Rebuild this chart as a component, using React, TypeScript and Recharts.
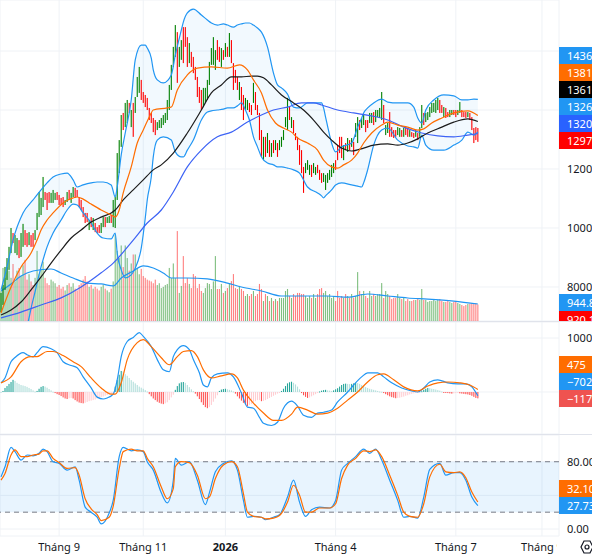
import React from "react";
import { ComposedChart, Bar, Line, Area, XAxis, YAxis, CartesianGrid, ReferenceArea, ReferenceLine } from "recharts";

const W = 592;
const SLOTS = 279;
const X_DOMAIN: [number, number] = [-0.5, SLOTS - 0.5];
const FONT = '"Noto Sans", sans-serif';
const TEXT = "#131722";
const GRID = "#eff2f6";
const M = { top: 0, right: 0, bottom: 0, left: 0 };

const monthTicks = [29, 71, 112, 167, 227, 270];
const monthLabels = ["Tháng 9", "Tháng 11", "2026", "Tháng 4", "Tháng 7", "Tháng 9"];
const priceTicks = [80000, 100000, 120000, 140000, 160000];
const macdTicks = [0, 10000];
const stochTicks = [0, 40, 80];
// grid levels whose labels sit under the last-value tags
const hiddenLabels = [140000, 160000];

// daily OHLC
const opens = [
  73000,75500,80500,84000,87500,93000,98000,93000,92000,95000,
  91500,95000,98500,97500,95000,97000,97500,96500,100000,105000,
  105500,108500,112000,111000,111500,109000,109500,110000,112000,111000,
  110000,110000,108000,109000,112500,109000,111000,113000,112500,110000,
  109000,106500,104500,104500,100000,103000,100000,101500,100000,100500,
  98500,100500,103500,102000,102000,104000,101000,101000,110000,120000,
  129000,138500,135000,136500,142000,135000,141500,139500,145000,147000,
  149500,145500,144500,143500,140000,138500,137000,136000,133500,134000,
  134500,135000,136000,137000,141000,148000,155000,159000,165000,155000,
  157500,167000,167500,164000,156500,159000,157500,154000,150500,147000,
  146000,141500,143000,144000,149000,155500,156000,154000,163000,161000,
  155000,160000,158500,161000,158500,163000,155500,153000,150500,144000,
  147000,144500,140500,140500,142000,141500,143000,145500,141500,138500,
  132500,123500,130500,126000,129500,124500,129500,126500,128500,126500,
  128000,130000,134500,134000,140500,134000,136000,132000,130500,127500,
  126000,120000,119000,120000,118500,121000,119000,118500,121000,119500,
  118000,116000,113500,115500,116500,117500,119000,122500,127500,130500,
  130000,123500,128500,126000,129500,128000,129000,131000,129500,136500,
  134000,135000,136000,136500,136000,136000,139000,136000,138000,137500,
  137000,141500,132000,132500,138500,134000,133000,133000,131500,131000,
  133000,131000,134000,133500,131000,132500,132000,131000,132000,131000,
  134000,138500,136000,137000,138000,139500,139500,139500,140500,143000,
  141500,138000,140500,139000,138000,138500,139500,139500,138500,139500,
  139500,139000,139000,137800,138500,137000,133500,134000,133500,
];
const highs = [
  78000,80700,86800,89800,93600,100000,98300,97600,96600,95900,
  98300,101400,99300,98300,98600,97600,98300,99300,105100,112200,
  110200,117300,112200,111900,112200,111900,112900,111900,112200,111200,
  110200,110500,109500,112200,112900,111900,113900,113600,112900,110500,
  109500,107100,105100,105100,102700,103700,103400,101700,100300,101000,
  101700,103700,103700,103700,104100,104400,109500,110500,125400,129800,
  138300,139000,142400,143400,142400,140000,142400,144400,151200,154600,
  150200,146100,145100,144100,140700,139000,137300,136600,135900,136600,
  137300,138300,139000,143400,148500,155300,161400,168800,166400,161400,
  163700,168100,168100,164700,162700,159700,158000,154600,151200,147800,
  146800,147500,147500,150200,156300,161000,164700,160300,163700,161400,
  161000,160300,162700,161400,166100,163700,155900,153600,151200,149500,
  147800,145100,144100,143400,142400,141700,149200,146100,141700,139000,
  133200,130900,130900,132200,129800,128800,129800,129800,128800,129800,
  130900,133200,137600,144100,141000,137600,136600,132200,130900,128100,
  126400,120700,122000,123000,121400,121400,122000,120700,121400,119700,
  118600,118600,118000,118600,119700,121400,122000,123000,128100,130900,
  130900,128100,128800,130500,129800,130500,129200,135600,137600,136600,
  137300,138300,136600,136600,139000,139000,139300,140000,140000,140700,
  146100,141700,134900,135600,139300,134200,133200,133200,134200,133900,
  133200,133900,134200,133900,133200,132500,132200,133200,132200,134200,
  141700,139000,139000,139300,141000,142400,142400,143400,144100,143400,
  141700,141000,140700,139300,140000,140000,140000,140000,140000,142700,
  140000,139300,139300,139300,139000,137600,133900,134200,133900,
];
const lows = [
  71500,73900,79000,82400,85800,91500,94900,91500,90800,89800,
  90200,93600,94200,93600,94200,93600,93600,95900,99300,103700,
  104400,107100,109500,106100,108500,108500,108500,109500,109500,107800,
  107800,107100,107800,108800,109500,108500,110500,110200,110500,107100,
  106100,103700,101700,102000,99300,100300,99300,98600,98300,98300,
  98300,100300,100300,101700,101700,101700,100300,100000,109500,118600,
  127500,133200,134200,135600,139000,134200,130900,139000,144400,145800,
  143400,142400,141000,140000,136600,135600,132500,131500,133200,133900,
  133900,134900,135600,136600,140000,146800,154600,158000,149200,154600,
  157000,155900,161400,154600,155900,154600,152500,150200,144400,142400,
  140000,141000,142400,143400,148500,155300,155300,153600,157000,156300,
  154600,157000,158000,158000,158000,155900,146800,149200,146800,143400,
  140000,136600,140000,140000,139300,138300,142400,140000,138300,129800,
  124100,123000,124100,125400,124100,124100,125400,126400,124100,126400,
  127500,129800,134200,133200,136600,133900,132200,129800,126400,121400,
  118600,111900,118600,119700,118000,117300,118600,118000,118600,116300,
  115300,115600,112900,115300,116300,117300,118600,119700,123000,125400,
  123700,123000,126400,125800,126400,127500,124700,130900,128800,133200,
  133900,134900,132500,133900,135600,135600,134900,135900,137600,137300,
  136600,135600,131500,132200,130900,130900,130500,130900,131500,130900,
  130900,130900,131500,130900,130900,130900,130500,130900,129800,130900,
  133900,134900,135900,136600,137600,139000,139300,139000,140000,139000,
  139000,137600,137300,137600,137600,138300,138300,137600,138300,139000,
  137600,137600,137300,137600,136600,133200,128800,129800,129200,
];
const closes = [
  77000,79500,85500,88500,92500,99000,95500,97000,96000,91000,
  97500,100500,95000,94500,98000,94500,94000,99000,104500,111000,
  109500,116000,110000,107000,109000,111500,112500,111500,110000,108000,
  108000,107500,109500,112000,110000,111500,113500,110500,111000,107500,
  106500,104000,102000,102500,102500,100500,103000,99000,98500,98500,
  101500,103500,100500,103500,104000,102000,109000,109500,124500,129000,
  137500,134000,141500,143000,139500,139500,132000,144000,150500,153500,
  144000,143000,141500,140500,137000,136000,133000,132000,135500,136500,
  137000,138000,138500,143000,148000,154500,161000,168000,150000,160500,
  163000,156500,162000,155000,162000,155000,153000,150500,145000,143000,
  140500,147000,147000,149500,155500,160500,164000,159500,157500,156500,
  160500,157500,162000,158500,165500,156500,147500,149500,147000,149000,
  140500,137000,143500,143000,139500,138500,148500,140500,138500,130500,
  124500,130000,124500,131500,124500,128500,126000,129500,124500,129500,
  130500,133000,137000,143000,137000,137000,132500,130000,126500,122000,
  119000,112500,121500,122500,121000,117500,121500,120500,119000,116500,
  115500,118500,117500,118500,119500,121000,121500,120000,123500,126000,
  124000,127500,126500,130000,126500,130000,125000,135000,137000,133500,
  137000,138000,133000,134000,138500,138500,135000,139500,139500,140500,
  145000,136000,134500,135000,131500,131000,131000,131000,134000,133500,
  131000,133500,132000,131000,133000,131000,131000,133000,130000,134000,
  141000,135500,138500,139000,140500,142000,142000,143000,143500,139500,
  139500,140500,137500,138000,139500,139500,138500,138000,139500,142000,
  138000,138000,137500,139000,137000,133500,129000,130000,129700,
];
// volume, thousands of shares
const volumes = [
  1700,2950,2400,3000,2800,2400,3170,2200,2800,2950,
  2500,3100,3400,2300,2600,2200,2000,2400,3900,2600,
  2900,3300,2400,2100,2000,2300,2200,2100,1900,2000,
  1800,1900,1700,2000,2100,1900,2100,1800,1700,2000,
  2100,2300,2500,2200,1900,2000,1800,1900,1800,1700,
  1900,2000,1800,1700,1600,1800,2200,4800,3900,3500,
  4200,3000,4200,3500,2800,3200,3700,3700,2950,2600,
  2900,2500,2400,2300,2250,2200,2100,2300,2000,2100,
  1830,1900,2000,2060,2950,2390,3200,2390,5000,1560,
  1950,3610,2110,2390,2060,1830,2610,2500,1830,2060,
  1670,1560,1830,2110,2060,1780,2200,3610,1780,1780,
  2060,1560,1670,1830,2110,2220,2610,1830,1780,1950,
  1780,1670,1390,1500,1390,1500,1670,1390,1500,2060,
  1780,1110,1500,1390,1110,1280,1110,1220,1110,1280,
  1280,1280,1670,1780,1390,1280,1500,1390,1560,1560,
  1500,1500,1390,1280,1390,1280,1500,1280,1500,1780,
  1830,1560,1670,1390,1500,1280,1390,1110,1670,1280,
  1390,1280,1500,1390,1280,1500,1300,1390,2720,1670,
  1500,1670,1390,1280,1670,1390,1500,1390,1500,1500,
  2110,1280,1670,1500,1390,1220,1280,1280,1500,1280,
  1220,1280,1110,1220,1110,1110,1170,1170,1220,1170,
  1780,1170,1170,1060,1110,1110,1170,1110,1170,1220,
  1110,1060,1060,1110,1060,1000,1060,1110,1000,950,
  890,830,890,950,950,1000,950,1000,920,
];
const macdHist = [
  0,190,750,1100,1500,1850,2250,2050,1700,1500,
  1300,1200,1100,950,750,550,300,100,200,600,
  950,1100,1000,800,550,300,50,-200,-400,-550,
  -750,-1000,-1200,-1300,-1150,-1100,-1200,-1500,-1750,-1950,
  -2050,-2100,-2000,-1850,-1700,-1600,-1500,-1400,-1200,-1050,
  -950,-850,-700,-550,-450,-300,-150,1000,2200,3200,
  3900,3800,3300,3000,2600,2200,1900,1600,1300,1000,
  800,600,350,100,-400,-800,-1200,-1500,-1800,-2000,
  -2150,-2250,-2100,-1900,-1500,-1000,-500,400,1100,1600,
  1800,1850,1700,1300,900,500,150,-300,-800,-1300,
  -1900,-2400,-2800,-3000,-2800,-2400,-1800,-1200,-600,200,
  450,550,600,500,400,300,100,-300,-800,-1200,
  -1600,-2000,-2300,-2600,-2400,-2200,-1900,-1700,-1500,-1500,
  -1700,-1650,-1500,-1300,-1100,-900,-700,-500,-300,-100,
  200,600,1100,1600,1800,1900,1700,1400,1000,500,
  -200,-600,-900,-1100,-1000,-800,-600,-400,-200,100,
  250,350,400,300,250,200,300,500,700,1000,
  1300,1500,1550,1500,1450,1500,1600,1700,1650,1500,
  1300,1100,900,750,600,500,400,300,200,100,
  50,-200,-400,-600,-800,-950,-1050,-1150,-1100,-1050,
  -950,-850,-700,-600,-450,-350,-250,-150,-100,-50,
  150,400,600,750,700,600,550,450,350,250,
  100,-100,-150,-200,-250,-300,-250,-200,-200,-250,
  -300,-350,-400,-450,-550,-700,-900,-1100,-1177,
];

// Bollinger bands (read at these bars)
const bbIdx = [0,3,6,11,16,20,23,26,30,33,36,38,41,45,48,51,55,57,58,60,62,65,67,70,72,73,75,76,78,81,85,87,90,91,93,96,100,103,105,108,111,113,116,118,120,122,124,126,128,130,133,136,138,140,143,146,149,153,158,160,161,162,164,165,167,170,175,178,180,181,183,186,190,193,198,203,206,208,210,212,216,221,226,230,233,236,238];
const bbUpper = [79000,86800,95900,105100,109500,112900,115300,117300,118300,118600,116300,113900,114600,115300,115600,115600,114600,110500,113900,124800,132200,143400,157000,162000,162000,161000,157600,153600,150200,149200,151900,158600,167100,169800,172900,174200,172200,170500,169500,168800,169200,168800,168100,168800,169200,169500,169500,168800,167800,166400,161400,152500,148500,147500,145400,141000,140700,142400,142400,142400,140700,137600,131500,128800,125800,127500,128800,134200,137300,139000,140700,142400,143700,142700,142400,142400,141000,137300,135600,140000,143400,145100,144800,143400,143400,143700,143600];
const bbLower = [63700,63700,63700,63700,75600,86800,93600,98300,102700,106100,108100,107800,105100,101700,98300,96600,96300,98300,91500,85800,83100,84100,86400,93200,103400,109500,117300,124100,129800,130900,129800,125800,124100,124100,126400,129800,136600,139300,139700,140000,140300,140700,140700,141400,142400,140000,136600,130900,127500,124100,122000,121400,120700,120700,120300,119700,118600,113900,111900,110900,110200,110900,112200,112900,114600,115300,114600,114200,113900,115300,119700,128100,133200,133900,129800,127800,127500,127100,131500,128100,126400,126400,128100,129800,132500,131500,132600];

// [bar, value] readings for the moving averages
const basisPts = [[0,71200],[5,80000],[10,86800],[15,91500],[18,95900],[20,99300],[23,102700],[26,105100],[31,108500],[36,110200],[38,110500],[41,109800],[45,108100],[50,106100],[55,104400],[57,103700],[59,106100],[61,111900],[65,120700],[68,128800],[71,133200],[74,137600],[76,140000],[83,140700],[85,141000],[88,146800],[93,151900],[98,154200],[105,154600],[113,154200],[119,155300],[123,153600],[126,150200],[130,145800],[133,140000],[137,135600],[141,133900],[145,132500],[148,130500],[153,128800],[158,126400],[161,123000],[165,120700],[168,120300],[171,121400],[175,123000],[178,125400],[181,128800],[185,132200],[190,134900],[193,135900],[198,134900],[203,134200],[208,133200],[211,133600],[215,135600],[220,137300],[226,139000],[233,139700],[238,138100]];
const sma50Pts = [[0,70500],[5,72200],[10,74900],[15,79000],[20,83400],[25,88100],[30,92500],[35,96600],[40,99300],[45,102000],[50,103700],[55,105100],[57,106100],[61,109500],[66,112900],[71,116300],[76,119700],[80,121400],[86,125400],[93,132200],[100,140000],[105,145800],[110,148500],[115,151200],[120,151200],[125,151500],[128,151500],[131,150900],[135,148500],[140,145100],[146,142400],[151,140000],[156,136600],[161,132500],[165,129800],[170,127100],[175,126100],[181,127100],[186,128100],[193,128500],[198,128100],[203,128800],[208,130200],[213,132200],[220,134200],[226,135900],[233,137000],[238,136100]];
const sma200Pts = [[0,69500],[10,71500],[20,73900],[30,76300],[40,80000],[50,84800],[56,88100],[66,95900],[73,101700],[80,106100],[86,112200],[93,120700],[100,126400],[108,130900],[115,132500],[123,135900],[130,138300],[136,140000],[143,141000],[150,142400],[156,142400],[160,141700],[168,140000],[176,139000],[185,138000],[193,136600],[201,134200],[210,132200],[218,131200],[226,130900],[233,131500],[238,132000]];
const volMaPts = [[0,1670],[5,2060],[10,2500],[16,2780],[25,2890],[30,2670],[36,2390],[43,2110],[50,2060],[56,1950],[60,2390],[66,2780],[71,3060],[76,2950],[81,2670],[85,2390],[93,2390],[103,2340],[113,2110],[120,1890],[130,1670],[140,1390],[153,1390],[163,1390],[173,1330],[183,1500],[193,1390],[203,1280],[213,1220],[226,1110],[238,945]];
const macdPts = [[0,1700],[2,2600],[5,5600],[7,6400],[11,7300],[13,6900],[16,6500],[18,7300],[21,8400],[25,8000],[28,7300],[31,5600],[35,4900],[38,4500],[41,2800],[45,750],[48,-950],[51,-1300],[53,-1100],[56,-400],[58,2250],[60,6550],[63,9350],[66,10100],[69,11000],[71,10300],[75,8400],[78,6000],[81,4100],[84,3750],[86,6550],[88,7850],[91,8600],[94,7850],[96,6000],[99,3550],[101,1300],[103,950],[105,2600],[108,3350],[113,3550],[116,2800],[120,-200],[123,-2800],[126,-3000],[129,-4700],[131,-5800],[135,-6200],[138,-5600],[141,-3000],[145,-1700],[148,-2600],[151,-4300],[155,-4700],[158,-3900],[161,-3750],[165,-3350],[168,-1850],[173,0],[176,1300],[180,2800],[183,3550],[188,3550],[191,2800],[195,1700],[200,750],[205,200],[208,0],[211,750],[214,1850],[218,2250],[223,1700],[228,1500],[232,1500],[235,950],[238,-702]];
const signalPts = [[0,1700],[5,2800],[10,5600],[15,6550],[18,6550],[23,7500],[26,7500],[31,6750],[36,5600],[40,4700],[45,2600],[50,750],[55,-400],[57,-400],[60,1700],[63,6000],[68,9150],[71,9700],[75,8400],[80,6350],[84,5050],[88,6550],[91,7500],[95,7650],[98,6550],[101,4100],[105,2600],[110,3000],[115,3350],[118,2600],[121,350],[126,-2050],[131,-3900],[136,-5250],[140,-5250],[145,-4100],[148,-2800],[153,-3350],[158,-4100],[163,-3900],[168,-3000],[173,-1500],[178,0],[183,1850],[188,3200],[191,3350],[196,2250],[201,950],[208,200],[213,1100],[218,1700],[223,1850],[229,1700],[234,1300],[238,475]];
const stochKPts = [[0,62],[2,74],[5,97],[7,92],[10,82],[13,88],[16,87],[19,90],[21,95],[23,92],[26,80],[29,78],[33,70],[37,74],[39,58],[42,26],[45,20],[48,14],[50,6],[54,19],[56,34],[59,86],[61,97],[65,93],[68,94],[71,92],[73,80],[76,70],[80,43],[83,31],[86,58],[87,84],[90,76],[94,80],[98,58],[102,29],[104,43],[107,68],[111,78],[115,81],[118,70],[121,34],[123,14],[126,15],[130,14],[132,11],[136,14],[139,17],[143,38],[146,58],[149,32],[152,15],[155,23],[159,26],[164,25],[167,34],[170,70],[173,78],[177,86],[181,95],[184,90],[187,95],[190,82],[194,58],[198,34],[201,14],[204,15],[208,13],[211,38],[214,71],[219,78],[222,64],[226,67],[229,67],[232,58],[235,38],[238,27.73]];
const stochDPts = [[0,58],[2,66],[5,88],[7,94],[10,86],[13,86],[16,88],[19,89],[21,93],[23,93],[26,84],[29,79],[33,72],[37,73],[39,64],[42,36],[45,24],[48,17],[50,10],[54,14],[56,27],[59,72],[61,92],[65,95],[68,93],[71,93],[73,84],[76,74],[80,50],[83,36],[86,48],[87,74],[90,80],[94,79],[98,64],[102,36],[104,38],[107,60],[111,76],[115,80],[118,74],[121,42],[123,20],[126,15],[130,14],[132,12],[136,13],[139,16],[143,32],[146,52],[149,40],[152,20],[155,20],[159,25],[164,25],[167,30],[170,60],[173,76],[177,84],[181,93],[184,92],[187,94],[190,86],[194,64],[198,40],[201,20],[204,15],[208,14],[211,30],[214,62],[219,77],[222,68],[226,67],[229,68],[232,61],[235,44],[238,32.1]];

// last-value tags on the right scale
const priceTags = [["143600", "#2196f3"], ["138100", "#ff6d00"], ["136100", "#000000"], ["132600", "#2196f3"], ["132000", "#2962ff"], ["129700", "#ff0000"]];
const volumeTags = [["944.8K", "#2196f3"], ["920.1K", "#ff0000"]];
const macdTags = [["475", "#ff6d00"], ["\u2212702", "#2196f3"], ["\u22121177", "#ef5350"]];
const stochTags = [["32.10", "#ff6d00"], ["27.73", "#2196f3"]];

const PRICE_DOMAIN: [number, number] = [68471, 177290];
const VOL_DOMAIN: [number, number] = [0, 17848];
const MACD_DOMAIN: [number, number] = [-7778, 12963];
const STOCH_DOMAIN: [number, number] = [-8.32, 111.77];

const rows = opens.map((o, i) => ({
  i, o, h: highs[i], l: lows[i], c: closes[i], v: volumes[i],
  hist: macdHist[i], prev: i > 0 ? macdHist[i - 1] : 0,
}));
const band = bbIdx.map((i, k) => ({ i, u: bbUpper[k], lo: bbLower[k], r: [bbLower[k], bbUpper[k]] }));
const pts = (a: number[][]) => a.map(([i, v]) => ({ i, v }));

function box(props: any) {
  const { x, y, width, height } = props;
  const top = height < 0 ? y + height : y;
  return { cx: x + width / 2, top, h: Math.max(Math.abs(height), 1) };
}

function OhlcBar(props: any) {
  if (props.y == null || isNaN(props.y)) return null;
  const { cx, top, h } = box(props);
  const up = props.payload.c >= props.payload.o;
  return <rect x={cx - 0.55} y={top} width={1.1} height={h} fill={up ? "#008000" : "#ff0000"} />;
}

function VolumeBar(props: any) {
  if (props.y == null || isNaN(props.y)) return null;
  const { cx, top, h } = box(props);
  const up = props.payload.c >= props.payload.o;
  return <rect x={cx - 0.55} y={top} width={1.1} height={h} fill={up ? "rgba(0,128,0,0.5)" : "rgba(255,0,0,0.5)"} />;
}

function HistBar(props: any) {
  if (props.y == null || isNaN(props.y)) return null;
  const { cx, top, h } = box(props);
  const { hist, prev } = props.payload;
  let fill;
  if (hist >= 0) fill = hist > prev ? "#26a69a" : "#b2dfdb";
  else fill = hist < prev ? "#ff5252" : "#ffcdd2";
  return <rect x={cx - 0.55} y={top} width={1.1} height={h} fill={fill} />;
}

function MonthTick(props: any) {
  const { x, y, payload } = props;
  const label = monthLabels[monthTicks.indexOf(payload.value)];
  return (
    <text x={x} y={y + 7} textAnchor="middle" fontSize={11} fill={TEXT} fontWeight={label === "2026" ? 700 : 400}>
      {label}
    </text>
  );
}

function Tags({ items, top }: { items: string[][]; top: number }) {
  return (
    <>
      {items.map(([t, c], k) => (
        <div
          key={k}
          style={{
            position: "absolute", left: 559, top: top + k * 17, width: 33, height: 17,
            background: c, color: "#fff", fontSize: 11, lineHeight: "17px", paddingLeft: 8,
            boxSizing: "border-box", overflow: "hidden", whiteSpace: "nowrap",
          }}
        >
          {t}
        </div>
      ))}
    </>
  );
}

const tickStyle = { fontSize: 11, fill: TEXT };
const lineProps = { dot: false, activeDot: false, isAnimationActive: false, type: "monotone" as const, strokeWidth: 1.2 };
const hiddenX = <XAxis type="number" dataKey="i" domain={X_DOMAIN} ticks={monthTicks} interval={0} hide />;

export default function App() {
  return (
    <div style={{ position: "absolute", left: 0, top: 0, width: W, height: 556, background: "#fff", fontFamily: FONT, overflow: "hidden" }}>
      {/* price + volume pane */}
      <div style={{ position: "absolute", left: 0, top: 0, width: W, height: 321, overflow: "hidden" }}>
        <div style={{ position: "absolute", left: 0, top: 0 }}>
          <ComposedChart width={W} height={321} data={rows} margin={M}>
            <CartesianGrid stroke={GRID} yAxisId="p" />
            {hiddenX}
            <YAxis
              yAxisId="p" orientation="right" width={33} domain={PRICE_DOMAIN} ticks={priceTicks} interval={0}
              allowDataOverflow axisLine={false} tickLine={false} tick={tickStyle}
              tickFormatter={(v: number) => (hiddenLabels.includes(v) ? "" : String(v))}
            />
            <YAxis yAxisId="v" hide domain={VOL_DOMAIN} allowDataOverflow />
            <Bar yAxisId="v" dataKey="v" barSize={2} shape={VolumeBar} isAnimationActive={false} />
            <Line yAxisId="v" data={pts(volMaPts)} dataKey="v" stroke="#2196f3" {...lineProps} />
          </ComposedChart>
        </div>
        <div style={{ position: "absolute", left: 0, top: 0 }}>
          <ComposedChart width={W} height={321} data={rows} margin={M}>
            {hiddenX}
            <YAxis yAxisId="p" orientation="right" width={33} domain={PRICE_DOMAIN} allowDataOverflow axisLine={false} tickLine={false} tick={false} />
            <Area yAxisId="p" data={band} dataKey="r" type="monotone" stroke="none" fill="#2196f3" fillOpacity={0.06} dot={false} activeDot={false} isAnimationActive={false} />
            <Line yAxisId="p" data={band} dataKey="u" stroke="#2196f3" {...lineProps} />
            <Line yAxisId="p" data={band} dataKey="lo" stroke="#2196f3" {...lineProps} />
            <Line yAxisId="p" data={pts(sma200Pts)} dataKey="v" stroke="#3d63f5" {...lineProps} />
            <Line yAxisId="p" data={pts(sma50Pts)} dataKey="v" stroke="#1c1c1c" {...lineProps} />
            <Line yAxisId="p" data={pts(basisPts)} dataKey="v" stroke="#ff6d00" {...lineProps} />
            <Bar yAxisId="p" dataKey={(d: any) => [d.l, d.h]} barSize={2} shape={OhlcBar} isAnimationActive={false} />
          </ComposedChart>
        </div>
        <Tags items={priceTags} top={47} />
        <Tags items={volumeTags} top={294} />
      </div>
      <div style={{ position: "absolute", left: 0, top: 321, width: W, height: 1, background: "#e0e3eb" }} />

      {/* MACD pane */}
      <div style={{ position: "absolute", left: 0, top: 322, width: W, height: 112, overflow: "hidden" }}>
        <ComposedChart width={W} height={112} data={rows} margin={M}>
          <CartesianGrid stroke={GRID} />
          {hiddenX}
          <YAxis
            orientation="right" width={33} domain={MACD_DOMAIN} ticks={macdTicks} interval={0} allowDataOverflow
            axisLine={false} tickLine={false} tick={tickStyle} tickFormatter={(v: number) => (v === 0 ? "" : String(v))}
          />
          <Bar dataKey="hist" barSize={2} shape={HistBar} isAnimationActive={false} />
          <Line data={pts(macdPts)} dataKey="v" stroke="#2196f3" {...lineProps} />
          <Line data={pts(signalPts)} dataKey="v" stroke="#ff6d00" {...lineProps} />
        </ComposedChart>
        <Tags items={macdTags} top={34} />
      </div>
      <div style={{ position: "absolute", left: 0, top: 434, width: W, height: 1, background: "#e0e3eb" }} />

      {/* Stochastic pane + time axis */}
      <div style={{ position: "absolute", left: 0, top: 435, width: W, height: 121, overflow: "hidden" }}>
        <ComposedChart width={W} height={121} data={rows} margin={M}>
          <CartesianGrid stroke={GRID} />
          <ReferenceArea y1={20} y2={80} fill="#2196f3" fillOpacity={0.1} stroke="none" />
          <ReferenceLine y={80} stroke="#787b86" strokeDasharray="5 4" />
          <ReferenceLine y={20} stroke="#787b86" strokeDasharray="5 4" />
          <XAxis type="number" dataKey="i" domain={X_DOMAIN} ticks={monthTicks} interval={0} height={20} axisLine={false} tickLine={false} tick={<MonthTick />} />
          <YAxis
            orientation="right" width={33} domain={STOCH_DOMAIN} ticks={stochTicks} interval={0} allowDataOverflow
            axisLine={false} tickLine={false} tick={tickStyle} tickFormatter={(v: number) => (v === 40 ? "" : v.toFixed(2))}
          />
          <Line data={pts(stochKPts)} dataKey="v" stroke="#2196f3" {...lineProps} />
          <Line data={pts(stochDPts)} dataKey="v" stroke="#ff6d00" {...lineProps} />
        </ComposedChart>
        <Tags items={stochTags} top={45} />
        <div style={{ position: "absolute", left: 557, top: 102, width: 35, height: 19, background: "#fff" }}>
          <svg width={35} height={19} style={{ position: "absolute", left: 0, top: 0 }}>
            <polygon points="27,4 33,4 36,10 33,16 27,16 24,10" fill="none" stroke={TEXT} strokeWidth={1.2} />
            <circle cx={30} cy={10} r={2} fill="none" stroke={TEXT} strokeWidth={1.2} />
          </svg>
        </div>
      </div>
    </div>
  );
}
